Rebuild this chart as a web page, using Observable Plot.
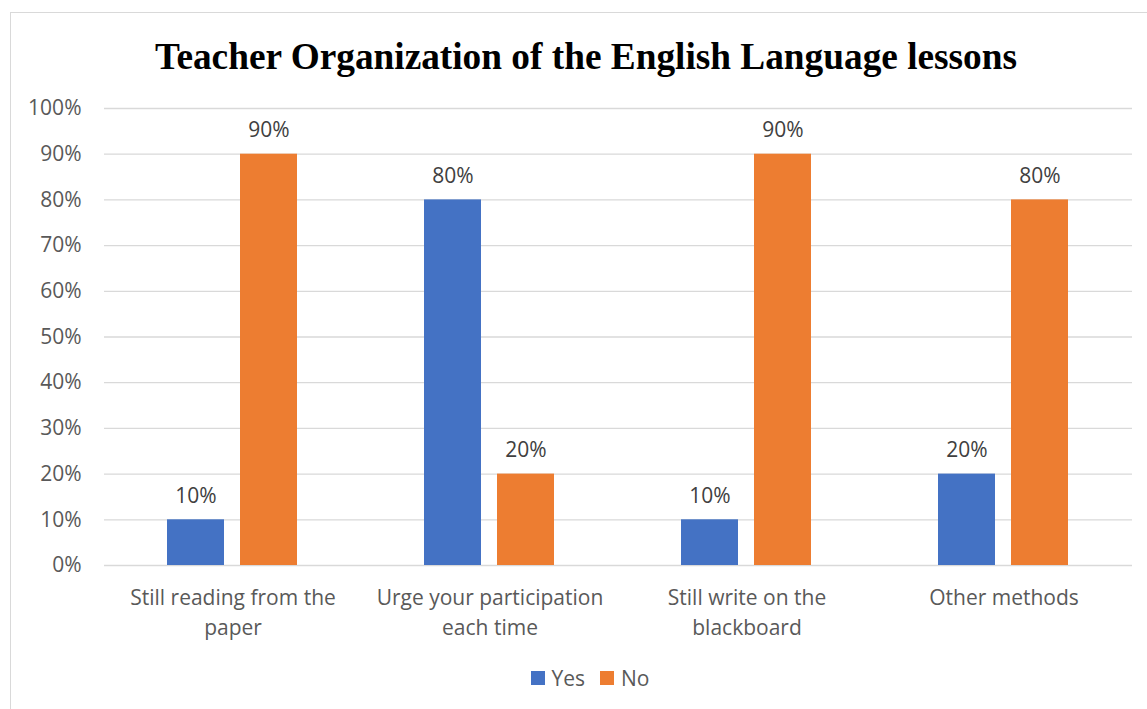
<!DOCTYPE html>
<html>
<head>
<meta charset="utf-8">
<script src="https://cdn.jsdelivr.net/npm/d3@7"></script>
<script src="https://cdn.jsdelivr.net/npm/@observablehq/plot@0.6"></script>
<style>
  html, body { margin: 0; padding: 0; background: #fff; }
  body { width: 1147px; height: 709px; position: relative; overflow: hidden; }
  #frame { position: absolute; left: 10px; top: 12px; width: 1152px; height: 720px;
           border: 1px solid #d9d9d9; box-sizing: border-box; }
  #title { position: absolute; left: 10px; width: 1152px; top: 30px; text-align: center;
           font-family: "Liberation Serif", "Times New Roman", serif; font-weight: bold;
           font-size: 37.3px; line-height: 54px; color: #000; white-space: nowrap; }
  #chart { position: absolute; left: 0; top: 90px; }
  #legend { position: absolute; left: 0; width: 1180px; top: 663px; height: 30px; display: flex;
            justify-content: center; align-items: center; gap: 15px;
            font-family: "Open Sans", Lato, sans-serif; font-size: 21px; color: #595959; }
  #legend .item { display: flex; align-items: center; gap: 7px; }
  #legend .sw { width: 14px; height: 14px; display: inline-block; }
</style>
</head>
<body>
<div id="frame"></div>
<div id="title">Teacher Organization of the English Language lessons</div>
<div id="chart"></div>
<div id="legend"></div>
<script>
// Survey answers per teaching practice, in percent
const categories = [
  "Still reading from the paper",
  "Urge your participation each time",
  "Still write on the blackboard",
  "Other methods"
];
const categoryLabels = [
  "Still reading from the\npaper",
  "Urge your participation\neach time",
  "Still write on the\nblackboard",
  "Other methods"
];
const series = ["Yes", "No"];
const yesValues = [10, 80, 10, 20];
const noValues = [90, 20, 90, 80];
const seriesColors = ["#4472C4", "#ED7D31"];
const yTicks = [0, 10, 20, 30, 40, 50, 60, 70, 80, 90, 100];

const rows = categories.flatMap((c, i) => [
  {category: c, series: "Yes", value: yesValues[i]},
  {category: c, series: "No", value: noValues[i]}
]);
const labelOf = new Map(categories.map((c, i) => [c, categoryLabels[i]]));

const chart = Plot.plot({
  width: 1147,
  height: 560,
  marginLeft: 103,
  marginRight: 15,
  marginTop: 18,
  marginBottom: 85,
  style: {fontFamily: "'Open Sans', Lato, sans-serif", fontSize: "21px", color: "#595959", background: "transparent"},
  fx: {domain: categories, padding: 0, label: null, axis: null},
  x: {domain: series, paddingInner: 0.216, paddingOuter: 0.845, axis: null},
  y: {domain: [0, 100], label: null, axis: null},
  color: {domain: series, range: seriesColors},
  marks: [
    Plot.gridY(yTicks, {stroke: "#d9d9d9", strokeOpacity: 1, strokeWidth: 1.3}),
    Plot.barY(rows, {fx: "category", x: "series", y: "value", fill: "series"}),
    Plot.text(rows, {fx: "category", x: "series", y: "value", text: d => d.value + "%",
                     lineAnchor: "bottom", dy: -17, fill: "#404040", fontSize: 21}),
    Plot.axisY(yTicks, {tickSize: 0, tickPadding: 23, tickFormat: d => d + "%", label: null,
                        fill: "#595959", fontSize: 21}),
    Plot.axisFx({anchor: "bottom", tickSize: 0, tickPadding: 18, label: null,
                 tickFormat: d => labelOf.get(d), lineHeight: 1.43, fill: "#595959", fontSize: 21})
  ]
});
document.getElementById("chart").appendChild(chart);

const legend = document.getElementById("legend");
series.forEach((s, i) => {
  const item = document.createElement("span");
  item.className = "item";
  const sw = document.createElement("span");
  sw.className = "sw";
  sw.style.background = seriesColors[i];
  item.appendChild(sw);
  item.appendChild(document.createTextNode(s));
  legend.appendChild(item);
});
</script>
</body>
</html>
